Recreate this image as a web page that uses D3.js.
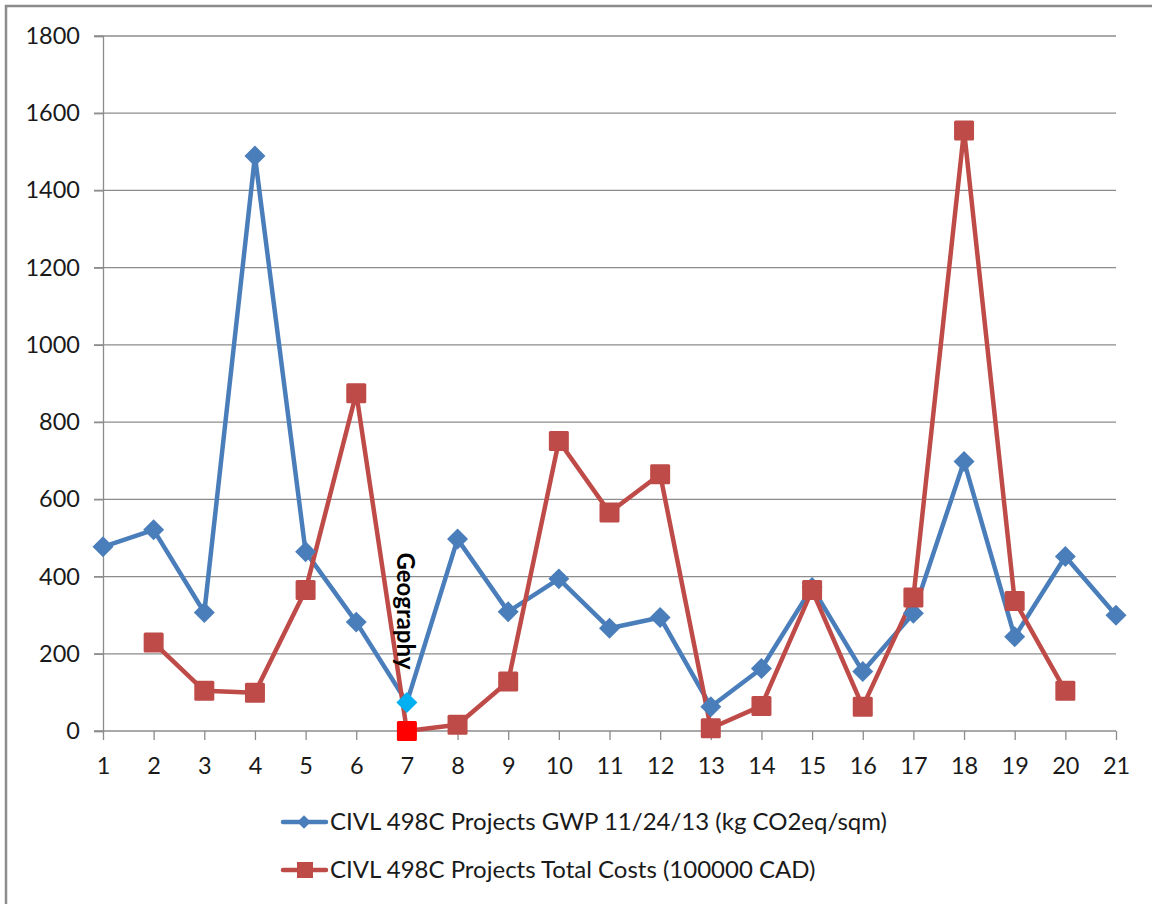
<!DOCTYPE html>
<html>
<head>
<meta charset="utf-8">
<script src="https://cdn.jsdelivr.net/npm/d3@7"></script>
<style>
  html, body { margin: 0; padding: 0; background: #fff; }
  svg { display: block; font-family: Lato, "Open Sans", sans-serif; }
</style>
</head>
<body>
<svg id="chart" width="1152" height="904"></svg>
<script>
const categories = ["1","2","3","4","5","6","7","8","9","10","11","12","13","14","15","16","17","18","19","20","21"];
const gwpValues = [477, 521, 307, 1489, 464, 282, 74, 497, 309, 394, 266, 294, 63, 162, 372, 154, 305, 698, 244, 452, 300];
const costValues = [null, 229, 104, 99, 365, 875, 0, 16, 128, 751, 566, 665, 7, 65, 365, 63, 346, 1555, 337, 104, null];
const yTicks = [0, 200, 400, 600, 800, 1000, 1200, 1400, 1600, 1800];
const seriesNames = [
    "CIVL 498C Projects GWP 11/24/13 (kg CO2eq/sqm)",
    "CIVL 498C Projects Total Costs (100000 CAD)"
];
const noteCategory = "7";
const noteText = "Geography";

const svg = d3.select("#chart");
const gridColor = "#8c8c8c";
const blue = "#4a7ebb";
const red = "#be4b48";

// outer frame (only top and left edges fall inside the picture)
svg.append("path")
    .attr("d", "M6,904V6H1152")
    .attr("fill", "none")
    .attr("stroke", "#8c8c8c")
    .attr("stroke-width", 2.5);

const x = d3.scalePoint().domain(categories).range([103, 1116]);
const y = d3.scaleLinear().domain([0, 1800]).range([731, 36]);

// gridlines
svg.append("g")
    .selectAll("line")
    .data(yTicks.filter(d => d > 0))
    .join("line")
    .attr("x1", 94)
    .attr("x2", 1116)
    .attr("y1", d => y(d))
    .attr("y2", d => y(d))
    .attr("stroke", gridColor)
    .attr("stroke-width", 1.3);

// y axis
const yAxis = svg.append("g")
    .attr("transform", "translate(103,0)")
    .call(d3.axisLeft(y).tickValues(yTicks).tickSize(9).tickPadding(14).tickFormat(d3.format("d")));
yAxis.selectAll("path, line").attr("stroke", gridColor).attr("stroke-width", 1.3);
yAxis.selectAll("text")
    .attr("font-family", "Lato, sans-serif")
    .attr("font-size", 23.5)
    .attr("fill", "#1a1a1a");

// x axis
const xAxis = svg.append("g")
    .attr("transform", "translate(0,731)")
    .call(d3.axisBottom(x).tickSize(9).tickPadding(17));
xAxis.select(".domain").attr("d", "M94,0H1116");
xAxis.selectAll("path, line").attr("stroke", gridColor).attr("stroke-width", 1.3);
xAxis.selectAll("text")
    .attr("font-family", "Lato, sans-serif")
    .attr("font-size", 23.5)
    .attr("fill", "#1a1a1a");

const line = d3.line()
    .defined(d => d.v != null)
    .x(d => x(d.c))
    .y(d => y(d.v));

const gwp = categories.map((c, i) => ({ c, v: gwpValues[i] }));
const cost = categories.map((c, i) => ({ c, v: costValues[i] }));

svg.append("path")
    .datum(gwp)
    .attr("d", line)
    .attr("fill", "none")
    .attr("stroke", blue)
    .attr("stroke-width", 4.5)
    .attr("stroke-linejoin", "round");

svg.append("path")
    .datum(cost)
    .attr("d", line)
    .attr("fill", "none")
    .attr("stroke", red)
    .attr("stroke-width", 4.5)
    .attr("stroke-linejoin", "round");

const diamond = d3.symbol().type(d3.symbolSquare).size(220);

svg.append("g")
    .selectAll("path")
    .data(gwp.filter(d => d.v != null))
    .join("path")
    .attr("d", diamond)
    .attr("transform", d => `translate(${x(d.c)},${y(d.v)}) rotate(45)`)
    .attr("fill", d => d.c === noteCategory ? "#00b0f0" : blue);

svg.append("g")
    .selectAll("rect")
    .data(cost.filter(d => d.v != null))
    .join("rect")
    .attr("x", d => x(d.c) - 10)
    .attr("y", d => y(d.v) - 10)
    .attr("width", 20)
    .attr("height", 20)
    .attr("rx", 1.5)
    .attr("fill", d => d.c === noteCategory ? "#ff0000" : red);

// data label on point 7
svg.append("text")
    .attr("transform", `translate(${x(noteCategory) - 10},${y(gwpValues[categories.indexOf(noteCategory)]) - 150}) rotate(90)`)
    .attr("font-family", "Lato, sans-serif")
    .attr("font-weight", "bold")
    .attr("font-size", 24)
    .attr("fill", "#000")
    .text(noteText);

// legend
const legend = svg.append("g");
const legendRows = [
    { name: seriesNames[0], color: blue, shape: "diamond", ly: 822 },
    { name: seriesNames[1], color: red, shape: "square", ly: 870 }
];
legendRows.forEach(r => {
    const g = legend.append("g").attr("transform", `translate(0,${r.ly})`);
    g.append("line")
        .attr("x1", 283).attr("x2", 326)
        .attr("stroke", r.color)
        .attr("stroke-width", 4.5)
        .attr("stroke-linecap", "round");
    if (r.shape === "diamond") {
        g.append("path")
            .attr("d", d3.symbol().type(d3.symbolSquare).size(90))
            .attr("transform", "translate(304,0) rotate(45)")
            .attr("fill", r.color);
    } else {
        g.append("rect")
            .attr("x", 297).attr("y", -8)
            .attr("width", 16).attr("height", 16)
            .attr("fill", r.color);
    }
    g.append("text")
        .attr("x", 330)
        .attr("dy", "0.35em")
        .attr("font-size", 24)
        .attr("fill", "#1a1a1a")
        .text(r.name);
});
</script>
</body>
</html>
